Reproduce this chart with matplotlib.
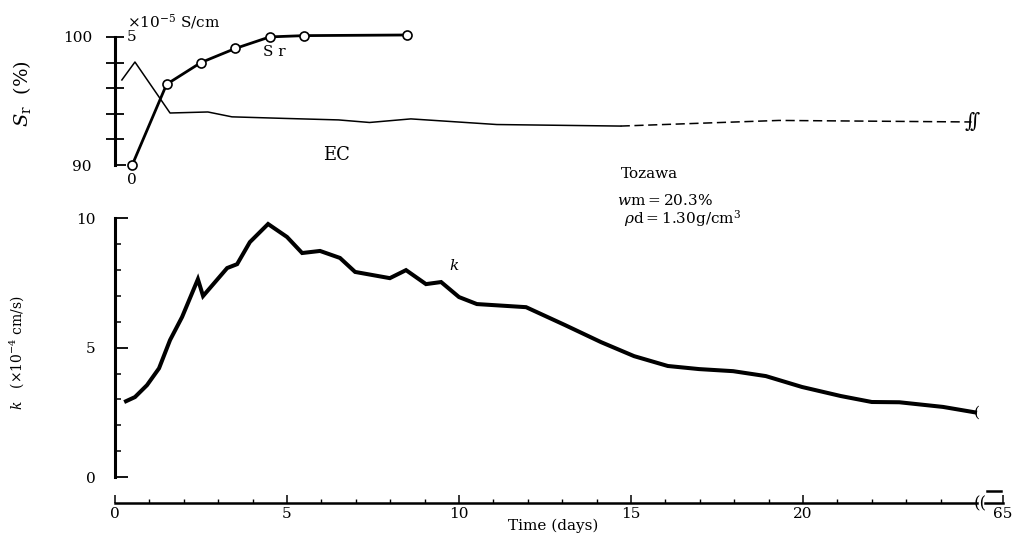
import matplotlib
matplotlib.use('Agg')
import matplotlib.pyplot as plt
from matplotlib.ticker import FixedLocator, FixedFormatter

plt.rcParams['font.family'] = ['DejaVu Serif']
plt.rcParams['mathtext.fontset'] = 'dejavuserif'

# permeability k (x10^-4 cm/s)
k_days = [0.32, 0.58, 0.93, 1.28, 1.6, 1.95, 2.41, 2.56, 3.26, 3.55, 3.92, 4.45,
          5.0, 5.44, 5.96, 6.54, 6.98, 7.99, 8.46, 9.04, 9.48, 10.0, 10.52,
          11.95, 13.08, 14.13, 15.09, 16.07, 16.98, 17.97, 18.92, 19.97, 21.1,
          22.0, 22.8, 24.07, 25.0]
k_vals = [2.93, 3.09, 3.55, 4.2, 5.29, 6.18, 7.64, 6.99, 8.07, 8.22, 9.07, 9.77,
          9.27, 8.65, 8.73, 8.46, 7.92, 7.68, 7.99, 7.45, 7.53, 6.95, 6.68,
          6.56, 5.87, 5.21, 4.67, 4.29, 4.17, 4.09, 3.90, 3.48, 3.13,
          2.90, 2.89, 2.71, 2.5]

# degree of saturation Sr (%)
sr_days = [0.5, 1.5, 2.5, 3.5, 4.5, 5.5, 8.5]
sr_vals = [90, 96.3, 98.0, 99.1, 100, 100.1, 100.15]

# electric conductivity EC (x10^-5 S/cm)
ec_days = [0.2, 0.58, 1.6, 2.7, 3.4, 4.9, 6.5, 7.4, 8.6, 11.1, 14.7]
ec_vals = [3.32, 4.02, 2.03, 2.07, 1.88, 1.82, 1.76, 1.66, 1.8, 1.58, 1.52]
ec_dash_days = [14.7, 19.3, 24.9]
ec_dash_vals = [1.52, 1.74, 1.68]

x_ticks = [0, 5, 10, 15, 20]
x_break = 25.1
x_end = 25.8

fig = plt.figure(figsize=(10.16, 5.36), dpi=100)

# lower panel: k
ax = fig.add_axes([115 / 1016, 1 - 516 / 536, 26 * 34.4 / 1016, (516 - 202.5) / 536])
ax.set_xlim(0, 26)
ax.set_ylim(-1.5, 10.6)
ax.plot(k_days, k_vals, color='black', lw=2.9, solid_joinstyle='miter')
ax.text(k_days[-1] + 0.05, k_vals[-1], '(', fontsize=11, ha='center', va='center')
ax.text(9.7, 8.0, '$k$', fontsize=11)

for s in ['top', 'right']:
    ax.spines[s].set_visible(False)
ax.spines['left'].set_bounds(0, 10)
ax.spines['left'].set_linewidth(2.2)
ax.spines['bottom'].set_position(('data', -1))
ax.spines['bottom'].set_bounds(0, x_break - 0.05)
ax.spines['bottom'].set_linewidth(1.8)

ax.set_yticks([0, 5, 10])
ax.yaxis.set_minor_locator(FixedLocator([1, 2, 3, 4, 6, 7, 8, 9]))
ax.set_xticks(x_ticks + [x_end])
ax.set_xticklabels([str(t) for t in x_ticks] + ['65'])
ax.xaxis.set_minor_locator(FixedLocator([d for d in range(25) if d % 5]))
ax.tick_params(axis='y', which='major', direction='in', length=9.5, width=1.3,
               pad=14, labelsize=11)
ax.tick_params(axis='y', which='minor', direction='in', length=4.5, width=1.1)
ax.tick_params(axis='x', which='major', direction='in', length=6, width=1.1,
               pad=3, labelsize=11)
ax.tick_params(axis='x', which='minor', direction='in', length=3, width=1.0)

# axis break on time axis
ax.plot([x_break + 0.2, x_end], [-1, -1], color='black', lw=1.8, clip_on=False)
ax.plot([x_break + 0.25, x_end - 0.05], [-0.55, -0.55], color='black', lw=1.8, clip_on=False)
ax.text(x_break + 0.05, -1.05, '((', fontsize=12, ha='center', va='center')

fig.text(553 / 1016, 1 - 526 / 536, 'Time (days)', fontsize=11, ha='center', va='center')
ax.set_ylabel(r'$k$   ($\times$10$^{-4}$ cm/s)', fontsize=10)
ax.yaxis.set_label_coords(-0.1, 0.52)

ax.text(14.7, 11.55, 'Tozawa', fontsize=11, clip_on=False)
ax.text(14.6, 10.5, r'$w$m$=$20.3%', fontsize=11, clip_on=False)
ax.text(14.8, 9.8, r'$\rho$d$=$1.30g/cm$^3$', fontsize=11, clip_on=False)

# upper panel: Sr and EC
sr_lo, sr_hi = 88.44, 102.1
at = fig.add_axes([115 / 1016, 1 - 185 / 536, 26 * 34.4 / 1016, 175 / 536])
at.set_xlim(0, 26)
at.set_ylim(sr_lo, sr_hi)
at.patch.set_visible(False)
for s in ['top', 'right', 'bottom']:
    at.spines[s].set_visible(False)
at.spines['left'].set_bounds(90, 100)
at.spines['left'].set_linewidth(2.2)
at.set_xticks([])
at.set_yticks([92, 94, 96, 98, 100])
at.set_yticklabels(['', '', '', '', '100'])
at.yaxis.set_minor_locator(FixedLocator([90]))
at.yaxis.set_minor_formatter(FixedFormatter(['90']))
at.tick_params(axis='y', which='major', direction='inout', length=13, width=1.3,
               pad=10, labelsize=11)
at.tick_params(axis='y', which='minor', direction='in', length=8, width=1.3,
               pad=17, labelsize=11)
at.plot(sr_days, sr_vals, color='black', lw=2.0, marker='o', ms=6.5,
        mfc='white', mec='black', mew=1.2, zorder=3)
at.text(4.3, 98.5, 'S r', fontsize=11)
at.set_ylabel(r'$S_{\rm r}$  (%)', fontsize=14)
at.yaxis.set_label_coords(-0.092, 0.52)

ae = at.twinx()
ae.set_ylim((sr_lo - 90) / 2, (sr_hi - 90) / 2)
for s in ae.spines.values():
    s.set_visible(False)
ae.set_yticks([])
ae.plot(ec_days, ec_vals, color='black', lw=1.1, zorder=2)
ae.plot(ec_dash_days, ec_dash_vals, color='black', lw=1.1, dashes=(6, 3), zorder=2)
ae.text(ec_dash_days[-1] + 0.05, ec_dash_vals[-1], r'$\int\!\!\int$', fontsize=10,
        ha='center', va='center')
ae.text(0.35, 5.0, '5', fontsize=11, va='center')
ae.text(0.5, -0.6, '0', fontsize=11, ha='center', va='center')
ae.text(0.35, 5.6, r'$\times$10$^{-5}$ S/cm', fontsize=11, va='center')
ae.text(6.05, 0.4, 'EC', fontsize=13, va='center')

fig.savefig('out.png', dpi=100)
